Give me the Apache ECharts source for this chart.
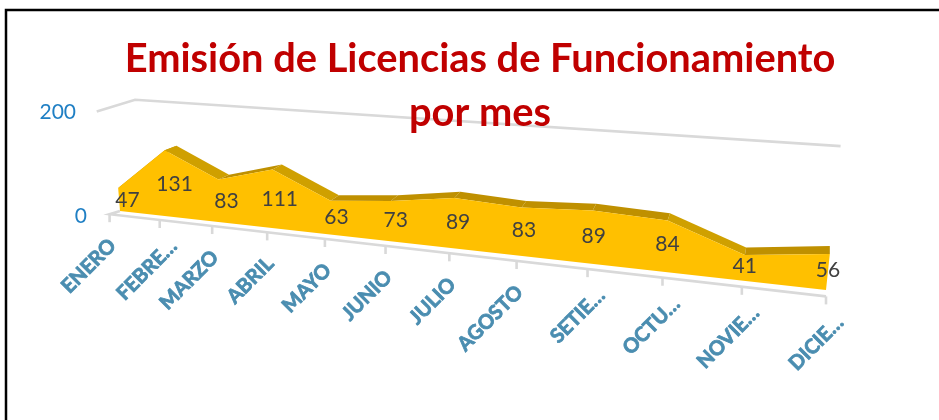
<!DOCTYPE html>
<html><head><meta charset="utf-8">
<style>html,body{margin:0;padding:0;background:#fff}#c{width:939px;height:420px}</style>
<script src="https://cdn.jsdelivr.net/npm/echarts@6/dist/echarts.min.js"></script>
</head><body><div id="c"></div>
<script>
const categories = ['ENERO','FEBRE…','MARZO','ABRIL','MAYO','JUNIO','JULIO','AGOSTO','SETIE…','OCTU…','NOVIE…','DICIE…'];
const licencias = [47,131,83,111,63,73,89,83,89,84,41,56];
const yTicks = [0,200];
const titleText = 'Emisión de Licencias de Funcionamiento\npor mes';

const FONT = 'Lato';
// perspective plane: grid corners -> screen quad
const Q = [[120,211],[826,290],[840,158],[112,111]];
const H = (function(){
  const [p0,p1,p2,p3]=Q;
  const dx1=p1[0]-p2[0],dx2=p3[0]-p2[0],sx=p0[0]-p1[0]+p2[0]-p3[0];
  const dy1=p1[1]-p2[1],dy2=p3[1]-p2[1],sy=p0[1]-p1[1]+p2[1]-p3[1];
  const det=dx1*dy2-dx2*dy1;
  const g=(sx*dy2-dx2*sy)/det,h=(dx1*sy-sx*dy1)/det;
  return {a:p1[0]-p0[0]+g*p1[0],b:p3[0]-p0[0]+h*p3[0],c:p0[0],
          d:p1[1]-p0[1]+g*p1[1],e:p3[1]-p0[1]+h*p3[1],f:p0[1],g,h};
})();
function plane(s,t,depth){
  const w=H.g*s+H.h*t+1;
  const d=depth||0;
  return [(H.a*s+H.b*t+H.c)/w+13*(1-s)*d,(H.d*s+H.e*t+H.f)/w+(-4-4*s)*d];
}
function project(api,i,v,depth){
  const o=api.coord([0,0]),m=api.coord([categories.length-1,yTicks[1]]);
  const p=api.coord([i,v]);
  return plane((p[0]-o[0])/(m[0]-o[0]),(p[1]-o[1])/(m[1]-o[1]),depth);
}
const indexed = licencias.map((v,i)=>[i,v]);

function renderFrame(params,api){
  const i=api.value(0),n=categories.length,kids=[];
  const st={stroke:'#D9D9D9',lineWidth:2.6,fill:null};
  const a=project(api,i,0,-0.8);
  kids.push({type:'line',shape:{x1:a[0],y1:a[1],x2:a[0],y2:a[1]+8},style:st});
  if(i===0){
    const wt=yTicks[1]*1.04;
    const w0=project(api,0,wt,-1.15),w1=project(api,0,wt,1.8),w2=project(api,n-1,wt,0.8);
    kids.push({type:'polyline',shape:{points:[w0,w1,w2]},style:st});
    const f0=project(api,0,0,0),fE=project(api,n-1,0,-0.8);
    kids.push({type:'polyline',shape:{points:[f0,a,fE]},style:st});
  }
  const trunc=categories[i].endsWith('…');
  kids.push({type:'text',x:a[0]+(trunc?14:3),y:a[1]+(trunc?23:28),rotation:45*Math.PI/180,
    style:{text:categories[i],align:'right',verticalAlign:'middle',font:'bold 20px '+FONT,fill:'#4A8DB0',stroke:'#4A8DB0',lineWidth:0.8}});
  return {type:'group',children:kids};
}
function renderArea(params,api){
  if(api.value(0)!==0) return null;
  const n=licencias.length,kids=[];
  const top=licencias.map((v,i)=>project(api,i,v,0));
  const back=licencias.map((v,i)=>project(api,i,v,1));
  for(let i=0;i<n-1;i++){
    const steep=licencias[i]-licencias[i+1]>=20;
    kids.push({type:'polygon',shape:{points:[top[i],top[i+1],back[i+1],back[i]]},
      style:{fill:steep?'#CFA000':'#BF9000'}});
  }
  const base=[project(api,n-1,0,0),project(api,0,0,0)];
  kids.push({type:'polygon',shape:{points:top.concat(base)},style:{fill:'#FFC000'}});
  return {type:'group',children:kids};
}
function renderLabels(params,api){
  const i=api.value(0),v=api.value(1),p=project(api,i,v/2,0.65);
  return {type:'text',x:p[0],y:p[1]+3,style:{text:String(v),align:'center',verticalAlign:'middle',font:'21px '+FONT,fill:'#404040'}};
}

const chart=echarts.init(document.getElementById('c'),null,{renderer:'canvas'});
chart.setOption({
  animation:false,
  backgroundColor:'#fff',
  title:{text:titleText,left:475,top:27,textAlign:'center',
    textStyle:{fontFamily:FONT,fontWeight:'bold',fontSize:39.8,lineHeight:54,color:'#C00000'},z:20},
  grid:{left:120,right:111,top:112,bottom:204,containLabel:false},
  xAxis:{type:'category',data:categories,boundaryGap:false,
    axisLine:{show:false},axisTick:{show:false},axisLabel:{show:false},splitLine:{show:false}},
  yAxis:{type:'value',min:yTicks[0],max:yTicks[1],interval:yTicks[1],
    axisLine:{show:false},axisTick:{show:false},splitLine:{show:false},
    axisLabel:{margin:33,fontFamily:FONT,fontSize:21,color:'#1F7FC4',
      formatter:v=>v===0?'{z|0}':'{h|'+v+'}',
      rich:{z:{fontFamily:FONT,fontSize:21,color:'#1F7FC4'},
            h:{fontFamily:FONT,fontSize:21,color:'#1F7FC4',padding:[0,11,0,0]}}}},
  graphic:[{type:'rect',shape:{x:6,y:10,width:1000,height:1000},style:{fill:null,stroke:'#000',lineWidth:2.5},silent:true,z:30}],
  series:[
    {type:'custom',name:'ejes',coordinateSystem:'cartesian2d',data:indexed,encode:{x:0,y:1},renderItem:renderFrame,silent:true,z:1},
    {type:'custom',name:'Licencias',coordinateSystem:'cartesian2d',data:indexed,encode:{x:0,y:1},renderItem:renderArea,silent:true,z:2},
    {type:'custom',name:'valores',coordinateSystem:'cartesian2d',data:indexed,encode:{x:0,y:1},renderItem:renderLabels,silent:true,z:3}
  ]
});
</script></body></html>
